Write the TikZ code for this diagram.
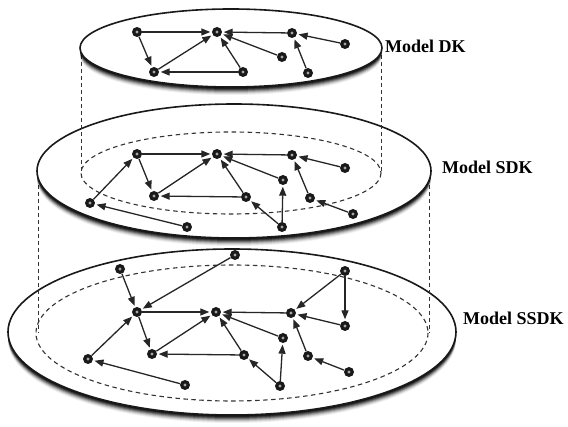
\documentclass[tikz,border=0pt]{standalone}
\usepackage{fontspec}
\setmainfont{Liberation Serif}
\usetikzlibrary{arrows.meta}

% a disc seen in perspective: soft shadow under the rim, white face, dark outline
\newcommand\layerdisc[4]{%
  \foreach \s/\o in {8/0.06,7/0.09,6/0.13,5/0.2,4/0.28,3/0.38,2/0.5,1/0.6}{%
    \fill[black,opacity=\o] (#1,#2+\s) ellipse [x radius=#3, y radius=#4];}
  \fill[white] (#1,#2) ellipse [x radius=#3, y radius=#4];
  \draw[rim] (#1,#2) ellipse [x radius=#3, y radius=#4];}

\begin{document}
\begin{tikzpicture}[x=1pt,y=-1pt,
  vertex/.style={circle, fill=black!90, minimum size=10pt, inner sep=0pt,
    path picture={\fill[black!35] (path picture bounding box.center) circle (1.6pt);}},
  link/.style={draw=black!85, line width=1.3pt, -{Triangle[length=9pt,width=7pt]},
    shorten >=1.5pt},
  rim/.style={line width=1.6pt, draw=black!90},
  inner rim/.style={line width=1.1pt, draw=black!80, dash pattern=on 4.5pt off 3.5pt},
  guide/.style={line width=1pt, draw=black!80, dash pattern=on 4pt off 3pt},
  layerlabel/.style={font=\bfseries\fontsize{18}{20}\selectfont, anchor=west, inner sep=0pt}]
\useasboundingbox (0,0) rectangle (568,427);
\fill[white] (0,0) rectangle (568,427);

% ---------- bottom layer: SSDK ----------
\layerdisc{232}{332}{224}{83}
\draw[inner rim] (232,333) ellipse [x radius=196, y radius=68];
\node[vertex] (c0) at (120,269) {};
\node[vertex] (cT) at (235,255) {};
\node[vertex] (cR) at (345,271) {};
\node[vertex] (c1) at (137,312) {};
\node[vertex] (c2) at (216,312) {};
\node[vertex] (c3) at (291,313) {};
\node[vertex] (c4) at (345,326) {};
\node[vertex] (c5) at (283,338) {};
\node[vertex] (c6) at (152,354) {};
\node[vertex] (c7) at (244,355) {};
\node[vertex] (c8) at (308,356) {};
\node[vertex] (c9) at (88,359) {};
\node[vertex] (c10) at (349,372) {};
\node[vertex] (c11) at (185,385) {};
\node[vertex] (c12) at (280,386) {};
\draw[link] (c0) -- (c1);
\draw[link] (cT) -- (c1);
\draw[link] (cR) -- (c3);
\draw[link] (cR) -- (c4);
\draw[link] (c1) -- (c2);
\draw[link] (c1) -- (c6);
\draw[link] (c6) -- (c2);
\draw[link] (c7) -- (c6);
\draw[link] (c7) -- (c2);
\draw[link] (c5) -- (c2);
\draw[link] (c3) -- (c2);
\draw[link] (c4) -- (c3);
\draw[link] (c8) -- (c3);
\draw[link] (c9) -- (c1);
\draw[link] (c11) -- (c9);
\draw[link] (c12) -- (c7);
\draw[link] (c12) -- (c5);
\draw[link] (c10) -- (c8);

% projection of the middle layer onto the bottom one
\coordinate (mL) at (38,171);
\coordinate (mR) at (429,171);
\coordinate (bL) at (38,333);
\coordinate (bR) at (429,333);
\draw[guide] (mL) -- (bL);
\draw[guide] (mR) -- (bR);

% ---------- middle layer: SDK ----------
\layerdisc{234}{171}{197}{67}
\draw[inner rim] (231,173) ellipse [x radius=150, y radius=41];
\node[vertex] (b1) at (137,154) {};
\node[vertex] (b2) at (217,154) {};
\node[vertex] (b3) at (292,155) {};
\node[vertex] (b4) at (345,168) {};
\node[vertex] (b5) at (283,180) {};
\node[vertex] (b6) at (154,196) {};
\node[vertex] (b7) at (246,197) {};
\node[vertex] (b8) at (310,198) {};
\node[vertex] (b9) at (90,203) {};
\node[vertex] (b10) at (353,214) {};
\node[vertex] (b11) at (187,227) {};
\node[vertex] (b12) at (282,227) {};
\draw[link] (b1) -- (b2);
\draw[link] (b1) -- (b6);
\draw[link] (b6) -- (b2);
\draw[link] (b7) -- (b6);
\draw[link] (b7) -- (b2);
\draw[link] (b5) -- (b2);
\draw[link] (b3) -- (b2);
\draw[link] (b4) -- (b3);
\draw[link] (b8) -- (b3);
\draw[link] (b9) -- (b1);
\draw[link] (b11) -- (b9);
\draw[link] (b12) -- (b7);
\draw[link] (b12) -- (b5);
\draw[link] (b10) -- (b8);

% projection of the top layer onto the middle one
\coordinate (tL) at (81,48);
\coordinate (tR) at (381,48);
\coordinate (sL) at (81,173);
\coordinate (sR) at (381,173);
\draw[guide] (tL) -- (sL);
\draw[guide] (tR) -- (sR);

% ---------- top layer: DK ----------
\layerdisc{231}{48}{151}{39}
\node[vertex] (a1) at (137,32) {};
\node[vertex] (a2) at (217,32) {};
\node[vertex] (a3) at (292,33) {};
\node[vertex] (a4) at (345,44) {};
\node[vertex] (a5) at (282,57) {};
\node[vertex] (a6) at (154,72) {};
\node[vertex] (a7) at (243,72) {};
\node[vertex] (a8) at (308,73) {};
\draw[link] (a1) -- (a2);
\draw[link] (a1) -- (a6);
\draw[link] (a6) -- (a2);
\draw[link] (a7) -- (a6);
\draw[link] (a7) -- (a2);
\draw[link] (a5) -- (a2);
\draw[link] (a3) -- (a2);
\draw[link] (a4) -- (a3);
\draw[link] (a8) -- (a3);

% ---------- labels ----------
\node[layerlabel] (lDK) at (385,46) {Model DK};
\node[layerlabel] (lSDK) at (442,167) {Model SDK};
\node[layerlabel] (lSSDK) at (463,318) {Model SSDK};
\end{tikzpicture}
\end{document}
